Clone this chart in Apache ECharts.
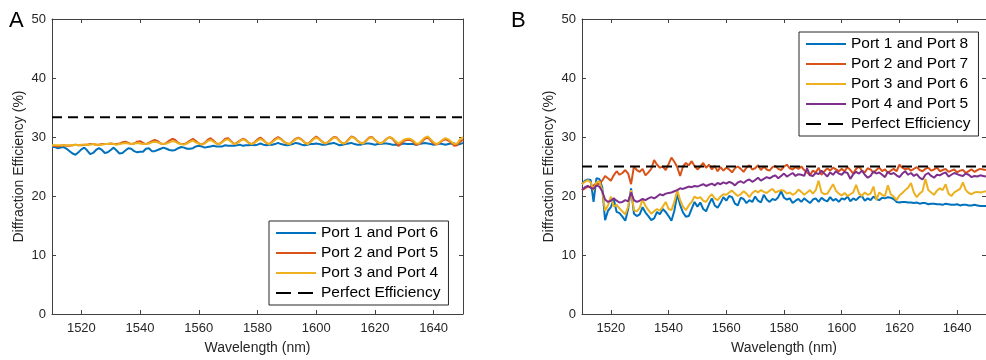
<!DOCTYPE html>
<html>
<head>
<meta charset="utf-8">
<script src="https://cdn.jsdelivr.net/npm/echarts@6/dist/echarts.min.js"></script>
<style>html,body{margin:0;padding:0;background:#fff}#c{width:986px;height:360px}</style>
</head>
<body>
<div id="c"></div>
<script>
// Wavelength grid: 1510 nm to 1650 nm, 1 nm step
const waveStart = 1510;
const waveStep = 1;
const xTicks = [1520, 1540, 1560, 1580, 1600, 1620, 1640];
const yTicks = [0, 10, 20, 30, 40, 50];

// Panel A
const namesA = ['Port 1 and Port 6', 'Port 2 and Port 5', 'Port 3 and Port 4', 'Perfect Efficiency'];
const a_p16 = [
28.3,28.3,28.1,28.2,28.3,28.0,27.6,27.2,27.0,27.4,
27.9,28.2,27.7,27.1,27.3,27.8,28.1,27.8,27.3,27.4,
27.8,28.2,27.7,27.2,27.3,27.7,28.1,28.0,27.6,27.4,
27.5,27.5,28.0,28.1,27.6,27.6,27.8,28.0,28.2,28.0,
27.8,27.7,27.8,28.1,28.3,28.2,28.0,28.0,28.1,28.4,
28.5,28.4,28.2,28.3,28.4,28.5,28.4,28.4,28.4,28.6,
28.5,28.5,28.5,28.6,28.7,28.5,28.6,28.6,28.7,28.6,
28.7,28.9,28.7,28.6,28.7,28.7,28.8,29.0,28.8,28.7,
28.6,28.7,28.8,29.0,28.9,28.7,28.6,28.7,28.8,28.8,
28.9,28.8,28.7,28.7,28.8,28.9,29.0,28.8,28.6,28.7,
28.8,28.9,29.0,28.8,28.7,28.7,28.8,28.9,28.9,28.8,
28.7,28.8,28.8,28.9,28.9,28.8,28.7,28.7,28.6,28.8,
28.9,28.8,28.8,28.8,28.7,28.8,28.9,29.0,28.9,28.8,
28.7,28.8,28.9,28.8,28.7,28.8,28.9,28.9,28.7,28.8,29.0];
const a_p25 = [
28.5,28.5,28.4,28.5,28.6,28.5,28.5,28.6,28.7,28.6,
28.6,28.7,28.7,28.8,28.8,28.7,28.7,28.8,28.8,28.8,
28.9,28.8,28.8,28.9,29.1,29.2,29.0,28.8,28.9,29.2,
29.3,29.0,28.8,29.0,29.3,29.5,29.3,28.9,28.8,29.0,
29.4,29.7,29.5,29.0,28.8,28.8,29.0,29.4,29.7,29.3,
28.9,28.7,29.0,29.5,29.8,29.4,28.9,28.8,29.2,29.7,
29.8,29.3,28.8,29.0,29.4,29.7,29.5,29.0,28.8,29.1,
29.6,29.9,29.5,29.0,28.8,29.2,29.7,30.0,29.7,29.2,
28.9,28.8,29.3,29.7,29.9,29.6,29.1,28.8,29.2,29.7,
30.1,29.7,29.2,28.9,29.1,29.6,30.0,29.9,29.3,28.9,
29.0,29.6,30.1,29.9,29.4,29.0,28.9,29.4,29.9,30.0,
29.5,29.1,28.9,29.2,29.7,30.0,29.7,29.1,28.5,28.9,
29.4,29.5,29.5,29.2,28.7,28.8,29.2,29.7,29.9,29.4,
28.9,28.7,29.0,29.4,29.6,29.4,29.0,28.5,28.6,29.2,29.5];
const a_p34 = [
28.6,28.6,28.6,28.6,28.6,28.6,28.6,28.6,28.7,28.6,
28.7,28.7,28.7,28.7,28.8,28.7,28.7,28.7,28.8,28.8,
28.9,28.8,28.7,28.8,28.9,29.0,28.9,28.8,28.9,29.0,
28.9,28.8,28.8,28.9,29.1,29.2,29.1,28.9,28.8,28.9,
29.1,29.3,29.2,28.9,28.8,28.7,28.9,29.2,29.4,29.1,
28.9,28.7,28.9,29.3,29.5,29.2,28.9,28.8,29.1,29.5,
29.6,29.2,28.8,28.9,29.3,29.6,29.4,29.0,28.8,29.0,
29.4,29.7,29.4,29.0,28.8,29.1,29.5,29.8,29.6,29.2,
28.9,28.8,29.2,29.6,29.8,29.5,29.1,28.8,29.1,29.6,
29.9,29.6,29.2,28.9,29.1,29.5,29.9,29.8,29.3,28.9,
29.0,29.5,30.0,29.8,29.4,29.0,28.9,29.3,29.8,29.9,
29.5,29.1,28.9,29.2,29.7,30.0,29.8,29.3,28.9,29.2,
29.6,29.7,29.7,29.4,28.9,28.9,29.4,29.9,30.1,29.6,
29.1,28.8,29.1,29.5,29.8,29.6,29.2,28.8,28.9,29.6,30.0];
const a_perfect = 33.33;

// Panel B
const namesB = ['Port 1 and Port 8', 'Port 2 and Port 7', 'Port 3 and Port 6', 'Port 4 and Port 5', 'Perfect Efficiency'];
const b_p18 = [
22.0,22.6,22.8,22.7,19.0,23.0,22.9,21.5,15.9,17.5,
18.1,19.5,17.3,17.1,16.5,15.8,17.8,21.3,17.0,16.6,
16.9,18.1,17.2,16.6,15.9,16.2,17.3,16.9,17.8,17.3,
16.6,15.8,17.5,20.3,18.5,17.2,16.5,16.6,17.8,19.0,
18.2,18.9,17.8,17.4,18.6,19.6,18.4,18.0,18.8,19.8,
19.2,20.0,19.8,18.7,18.4,19.7,19.5,18.8,19.3,19.0,
19.9,19.2,18.9,20.2,19.4,19.0,19.5,19.3,19.8,20.8,
19.7,19.4,19.6,18.8,19.2,19.5,19.0,19.6,19.2,18.8,
19.4,19.6,19.0,19.7,19.3,19.1,19.8,19.2,19.5,19.0,
19.6,19.4,19.9,19.1,19.6,19.3,19.8,20.0,19.2,19.6,
19.3,19.9,19.5,19.3,19.7,19.6,19.8,19.7,19.5,19.0,
18.9,19.0,19.0,18.9,18.9,18.8,18.9,18.7,18.8,18.8,
18.6,18.7,18.7,18.6,18.6,18.5,18.7,18.6,18.5,18.5,
18.6,18.4,18.5,18.5,18.4,18.4,18.5,18.4,18.3,18.3,18.3];
const b_p27 = [
21.0,21.3,21.6,21.5,21.8,22.1,22.0,22.6,23.4,23.0,
22.6,23.5,24.2,23.6,23.9,24.4,23.8,22.0,25.0,24.4,
24.1,24.6,23.5,24.0,24.6,26.1,25.3,24.8,25.0,24.4,
25.4,26.5,25.8,24.9,23.4,25.0,25.6,25.2,25.9,25.1,
24.5,25.0,25.6,24.8,25.3,24.5,25.1,24.2,24.9,24.3,
24.8,24.5,24.0,24.7,25.0,24.6,24.1,24.8,25.2,24.5,
24.7,25.2,24.4,25.0,24.5,24.3,24.9,25.1,24.6,24.4,
25.0,25.3,24.7,24.5,24.9,24.6,25.0,24.4,24.0,23.5,
24.3,24.0,24.8,23.6,24.2,24.7,24.3,24.8,24.5,24.2,
24.6,24.2,24.9,24.4,23.8,24.6,25.0,24.3,24.0,24.7,
24.5,23.9,24.4,24.8,24.2,24.5,23.9,24.3,24.6,24.2,
25.3,24.8,24.5,24.7,24.3,24.6,24.9,24.4,24.2,24.6,
24.8,24.3,24.5,24.8,24.2,24.4,24.6,24.1,24.3,24.5,
24.0,24.3,24.4,23.9,24.2,24.5,24.1,24.4,24.6,24.5,24.4];
const b_p36 = [
22.0,22.4,22.7,22.3,21.0,22.3,22.5,21.0,17.5,18.4,
19.9,18.2,18.5,17.9,17.4,16.9,18.2,21.0,17.6,17.4,
18.0,19.4,18.3,17.6,17.0,17.4,17.8,17.5,18.2,19.0,
17.8,17.6,19.0,21.0,19.3,18.2,17.6,18.4,19.0,19.9,
19.6,19.8,19.2,19.0,19.8,20.3,19.6,19.3,19.9,20.3,
20.2,20.6,20.9,20.4,20.0,20.3,20.8,20.4,19.8,20.5,
20.9,20.6,21.0,20.7,20.5,20.9,21.2,20.6,20.8,21.0,
20.9,20.4,20.6,20.2,20.5,21.1,20.7,20.2,20.6,21.0,
20.4,21.0,22.6,20.6,20.3,20.4,21.2,22.0,20.9,20.4,
20.1,20.5,20.0,20.3,20.6,21.9,20.4,20.0,20.6,20.2,
20.4,21.6,19.3,20.6,20.2,20.0,21.8,20.3,19.9,19.3,
20.1,20.5,21.0,21.4,22.2,20.6,19.8,20.4,20.8,22.9,
21.0,20.6,20.2,20.9,21.3,21.0,22.0,20.4,20.0,20.6,
20.9,21.2,22.3,21.0,20.5,20.3,20.6,20.7,20.6,20.7,20.8];
const b_p45 = [
21.0,21.5,21.7,21.4,21.2,21.8,21.6,20.8,19.4,19.0,
19.2,19.6,19.2,18.9,19.0,19.3,19.1,20.6,19.3,19.0,
19.2,19.5,19.3,19.6,19.8,19.6,19.9,20.3,20.1,20.4,
20.5,20.6,20.8,21.0,21.3,21.2,21.4,21.6,21.5,21.7,
21.6,21.8,22.0,21.7,21.9,22.1,21.8,22.2,22.0,22.3,
22.1,22.4,22.2,21.8,22.3,22.5,22.2,22.6,22.8,22.4,
22.7,23.1,22.6,22.9,23.2,23.0,23.3,23.5,23.0,23.4,
23.8,23.3,23.6,23.9,23.4,23.7,23.6,23.4,24.7,23.5,
23.4,23.9,23.7,24.3,23.8,23.3,24.0,23.6,24.2,23.8,
23.6,24.1,23.9,22.9,23.7,24.1,23.8,24.3,23.6,23.1,
23.4,24.2,23.8,24.0,23.6,23.2,24.1,23.7,23.9,23.5,
23.2,23.8,24.2,23.6,23.9,23.4,23.7,23.1,22.8,23.6,
23.9,23.4,23.1,23.6,23.5,23.8,24.0,23.3,23.6,23.9,
23.7,23.5,23.4,23.8,23.6,23.2,23.4,23.3,23.5,23.4,23.3];
const b_perfect = 25;

const colors = ['#0072BD', '#D95319', '#EDB120', '#7E2F8E'];
const FONT = '"Liberation Sans", Arial, Helvetica, sans-serif';
const AX = '#404040';
const TXT = '#262626';

function pairs(arr) { return arr.map((v, i) => [waveStart + i * waveStep, v]); }
function flat(v) { return [[1510, v], [1650, v]]; }
const plain = v => String(v);

function lineSeries(name, data, color, xi, yi) {
  return { type: 'line', name, data: pairs(data), xAxisIndex: xi, yAxisIndex: yi,
    symbol: 'none', showSymbol: false, lineStyle: { color, width: 2 }, itemStyle: { color },
    emphasis: { disabled: true }, z: 2 };
}
function dashSeries(v, xi, yi) {
  return { type: 'line', name: 'Perfect Efficiency', data: flat(v), xAxisIndex: xi, yAxisIndex: yi,
    symbol: 'none', showSymbol: false, lineStyle: { color: '#000', width: 2, type: [10, 6] },
    itemStyle: { color: '#000' }, emphasis: { disabled: true }, z: 3 };
}
function xAxisMain(gi) {
  return { gridIndex: gi, type: 'value', min: 1510, max: 1650, position: 'bottom', splitNumber: 7,
    name: 'Wavelength (nm)', nameLocation: 'middle', nameGap: 27,
    nameTextStyle: { fontSize: 14, color: TXT, fontFamily: FONT },
    axisLine: { onZero: false, lineStyle: { color: AX, width: 1 } },
    axisTick: { inside: true, length: 4, customValues: xTicks, lineStyle: { color: AX } },
    axisLabel: { customValues: xTicks, formatter: plain, fontSize: 13, color: TXT, margin: 8, fontFamily: FONT },
    splitLine: { show: false } };
}
function xAxisTop(gi) {
  return { gridIndex: gi, type: 'value', min: 1510, max: 1650, position: 'top', splitNumber: 7,
    axisLine: { onZero: false, lineStyle: { color: AX, width: 1 } },
    axisTick: { inside: true, length: 4, customValues: xTicks, lineStyle: { color: AX } },
    axisLabel: { show: false }, splitLine: { show: false } };
}
function yAxisMain(gi) {
  return { gridIndex: gi, type: 'value', min: 0, max: 50, interval: 10, position: 'left',
    name: 'Diffraction Efficiency (%)', nameLocation: 'middle', nameGap: 26,
    nameTextStyle: { fontSize: 14, color: TXT, fontFamily: FONT },
    axisLine: { show: true, onZero: false, lineStyle: { color: AX, width: 1 } },
    axisTick: { show: true, inside: true, length: 4, lineStyle: { color: AX } },
    axisLabel: { formatter: plain, fontSize: 13, color: TXT, margin: 6, fontFamily: FONT },
    splitLine: { show: false } };
}
function yAxisRight(gi) {
  return { gridIndex: gi, type: 'value', min: 0, max: 50, interval: 10, position: 'right',
    axisLine: { show: true, onZero: false, lineStyle: { color: AX, width: 1 } },
    axisTick: { show: true, inside: true, length: 4, lineStyle: { color: AX } },
    axisLabel: { show: false }, splitLine: { show: false } };
}
function legendAt(names, left, top) {
  const data = names.map(n => n === 'Perfect Efficiency'
    ? { name: n, lineStyle: { type: [15, 7], width: 2 } }
    : { name: n });
  return { data, orient: 'vertical', left, top, itemWidth: 40, itemHeight: 16, itemGap: 4,
    padding: [4, 8, 4, 6], borderColor: '#262626', borderWidth: 1, backgroundColor: '#fff',
    selectedMode: false,
    itemStyle: { opacity: 0 },
    lineStyle: { width: 2 },
    textStyle: { fontSize: 15.5, color: '#000', fontFamily: FONT, lineHeight: 16 } };
}

const chart = echarts.init(document.getElementById('c'), null, { renderer: 'canvas' });
chart.setOption({
  animation: false,
  backgroundColor: '#fff',
  textStyle: { fontFamily: FONT },
  grid: [
    { left: 52, top: 19, width: 411, bottom: 42 },
    { left: 582, top: 19, right: -7, bottom: 42 }
  ],
  xAxis: [xAxisMain(0), xAxisTop(0), xAxisMain(1), xAxisTop(1)],
  yAxis: [yAxisMain(0), yAxisRight(0), yAxisMain(1), yAxisRight(1)],
  legend: [legendAt(namesA, 269, 221), legendAt(namesB, 799, 32)],
  series: [
    lineSeries(namesA[0], a_p16, colors[0], 0, 0),
    lineSeries(namesA[1], a_p25, colors[1], 0, 0),
    lineSeries(namesA[2], a_p34, colors[2], 0, 0),
    dashSeries(a_perfect, 0, 0),
    lineSeries(namesB[0], b_p18, colors[0], 2, 2),
    lineSeries(namesB[1], b_p27, colors[1], 2, 2),
    lineSeries(namesB[2], b_p36, colors[2], 2, 2),
    lineSeries(namesB[3], b_p45, colors[3], 2, 2),
    dashSeries(b_perfect, 2, 2)
  ],
  graphic: [
    { type: 'text', left: 9, top: 10, style: { text: 'A', font: '22px ' + FONT, fill: '#000' } },
    { type: 'text', left: 511, top: 10, style: { text: 'B', font: '22px ' + FONT, fill: '#000' } }
  ]
});
</script>
</body>
</html>
